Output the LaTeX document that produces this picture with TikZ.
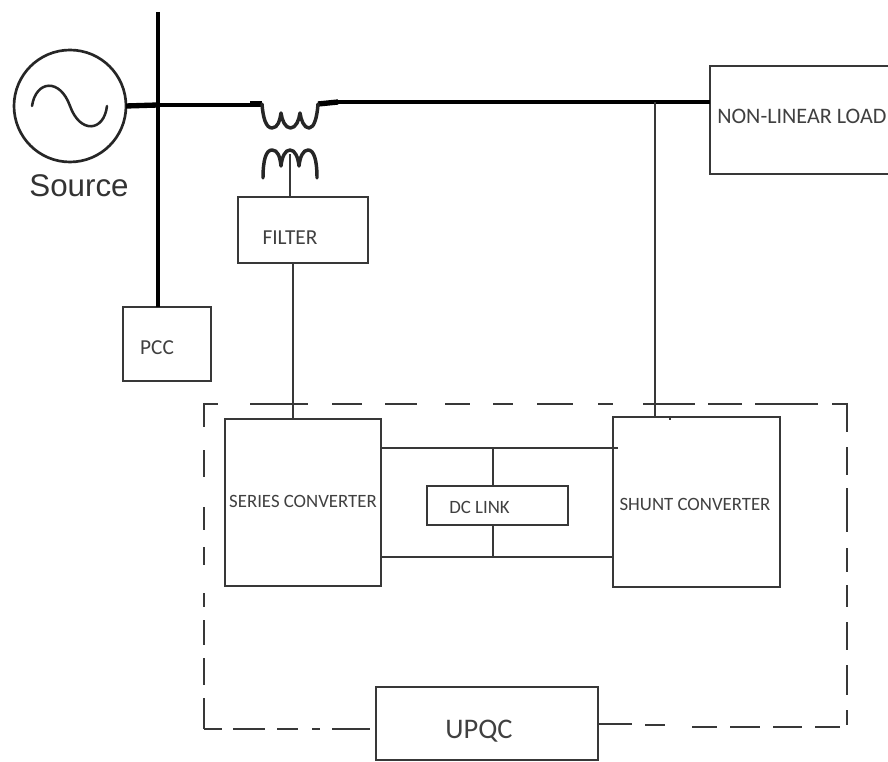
\documentclass[tikz,border=0pt]{standalone}
\usepackage{fontspec}
\setmainfont{Carlito}
\newfontfamily\srcfont{Liberation Sans}
\definecolor{ink}{gray}{0.22}
\definecolor{txt}{gray}{0.25}
\newcommand{\pxbox}[5]{%
  \pgfmathsetmacro{\bw}{(#4-#2)*0.75}\pgfmathsetmacro{\bh}{(#5-#3)*0.75}%
  \node[boxn,minimum width=\bw pt,minimum height=\bh pt] (#1) at ({(#2+#4)/2},{(#3+#5)/2}) {};}
\tikzset{
  boxn/.style={draw=ink,line width=1.3pt,rectangle,inner sep=0pt,outer sep=0pt,fill=white},
  wire/.style={draw=ink,line width=1.2pt},
  busline/.style={draw=black,line width=2.6pt},
  heavy/.style={draw=black,line width=4pt},
  coilline/.style={draw=black!85,line width=2.6pt,line cap=round,line join=round},
  frameline/.style={draw=ink,line width=1.2pt},
  lab/.style={text=txt,font=\fontsize{14.1pt}{16pt}\selectfont,inner sep=0pt},
  labbig/.style={text=txt,font=\fontsize{16pt}{18pt}\selectfont,inner sep=0pt},
}
\begin{document}
\begin{tikzpicture}[x=0.75pt,y=-0.75pt]
\useasboundingbox (0,0) rectangle (888,762);
% dashed frame
\foreach \a/\b in {203/218,250/308,332/362,385/417,445/470,493/513,537/573,598/613,643/695,708/742,755/818,832/848}
  \draw[frameline] (\a,404) -- (\b,404);
\foreach \a/\b in {403/432,447/475,488/532,548/572,585/607,622/650,665/695,710/725}
  \draw[frameline] (847,\a) -- (847,\b);
\foreach \a/\b in {403/427,450/477,507/530,547/565,593/607,620/645,658/685,698/729}
  \draw[frameline] (204,\a) -- (204,\b);
\foreach \a/\b in {204/222,233/265,277/298,312/320,332/370}
  \draw[frameline] (\a,729) -- (\b,729);
\foreach \a/\b/\c in {598/632/724,645/665/725,692/717/727,730/760/727,773/802/727,815/840/727}
  \draw[frameline] (\a,\c) -- (\b,\c);
% boxes
\pxbox{filter}{238}{197}{368}{263}
\pxbox{pcc}{123}{307}{211}{381}
\pxbox{load}{710}{66}{890}{174}
\pxbox{series}{225}{419}{381}{586}
\pxbox{shunt}{613}{417}{780}{587}
\pxbox{dclink}{427}{486}{568}{525}
\pxbox{upqc}{376}{687}{598}{760}
\node[labbig] (tfilter) at (290,238) {FILTER};
\node[labbig] (tpcc) at (157,348) {PCC};
\node[labbig,anchor=west,font=\fontsize{16.6pt}{18pt}\selectfont] (tload) at (717,116) {NON-LINEAR LOAD};
\node[lab] (tseries) at (303,501) {SERIES CONVERTER};
\node[lab] (tshunt) at (695,504) {SHUNT CONVERTER};
\node[lab] (tdc) at (479.5,507) {DC LINK};
\node[lab,font=\fontsize{21.3pt}{24pt}\selectfont] (tupqc) at (479,731) {UPQC};
% source
\node[circle,draw=black!85,line width=2pt,minimum size=84pt,inner sep=0pt,outer sep=0pt] (src) at (70,106) {};
\node[text=black!80,inner sep=0pt,font=\srcfont\fontsize{23.5pt}{28pt}\selectfont] (tsrc) at (79,186) {Source};
\draw[draw=black!85,line width=1.9pt,line cap=round]
  (32,106) .. controls (36,80) and (60,78) .. (70,106) .. controls (80,134) and (104,132) .. (107,106);
% bus
\coordinate (bustop) at (158,12);
\coordinate (busjoin) at (158,105);
\coordinate (primL) at (262,104);
\coordinate (primR) at (318,104);
\coordinate (lineR) at (338,102);
\draw[busline] (bustop) -- (bustop |- pcc.north);
\draw[heavy] (src.east) -- (busjoin);
\draw[busline] (busjoin) -- (250,105);
\draw[heavy] (250,104) -- (primL);
\draw[heavy] (primR) -- (lineR);
\draw[busline] (lineR) -- (lineR -| load.west);
% transformer
\draw[coilline] (primL) .. controls (263,118) and (266,128) .. (272,128)
  .. controls (278,128) and (280,120) .. (281,113)
  .. controls (282,120) and (285,128) .. (290.5,128)
  .. controls (296,128) and (299,120) .. (300,113)
  .. controls (301,120) and (304,128) .. (309,128)
  .. controls (314,128) and (317,118) .. (primR);
\coordinate (secL) at (263,178);
\coordinate (secR) at (317,178);
\coordinate (secM) at (290,154);
\draw[coilline] (secL) .. controls (263,160) and (266,150) .. (272,150)
  .. controls (278,150) and (280,157) .. (281,166)
  .. controls (282,157) and (285,150) .. (290,150)
  .. controls (295,150) and (298,157) .. (299,166)
  .. controls (300,157) and (303,150) .. (308,150)
  .. controls (314,150) and (317,160) .. (secR);
\draw[wire] (secM) -- (secM |- filter.north);
% wires
\coordinate (fs) at (293,263);
\draw[wire] (fs) -- (fs |- series.north);
\coordinate (tap) at (655,102);
\draw[wire] (tap) -- (tap |- shunt.north);
\coordinate (tick) at (670,417);
\coordinate (tickb) at (670,420);
\draw[wire] (tick) -- (tickb);
\coordinate (dctop) at (381,448);
\coordinate (dctopr) at (618,448);
\coordinate (dcbot) at (381,557);
\coordinate (dcbotr) at (613,557);
\coordinate (dcm) at (493,448);
\coordinate (dcn) at (493,557);
\draw[wire] (dctop) -- (dctopr);
\draw[wire] (dcbot) -- (dcbotr);
\draw[wire] (dcm) -- (dcm |- dclink.north);
\draw[wire] (dcn) -- (dcn |- dclink.south);
\end{tikzpicture}
\end{document}
